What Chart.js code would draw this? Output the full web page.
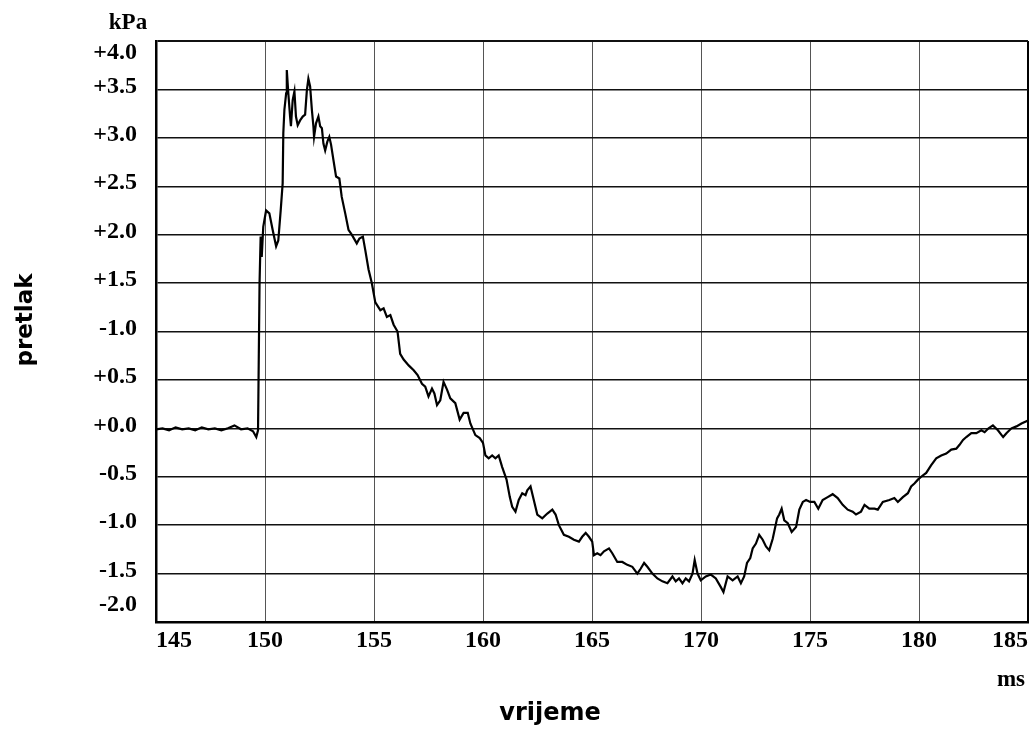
<!DOCTYPE html>
<html>
<head>
<meta charset="utf-8">
<title>pretlak / vrijeme</title>
<script src="https://cdn.jsdelivr.net/npm/chart.js@4.4.1/dist/chart.umd.min.js"></script>
<style>
  html, body { margin: 0; padding: 0; background: #fff; }
  #wrap { position: relative; width: 1032px; height: 729px; }
</style>
</head>
<body>
<div id="wrap"><canvas id="chartPressure"></canvas></div>
<script>
// vrijeme (ms) i pretlak (kPa), ocitano sa slike
const timeMs = [
  145.00, 145.30, 145.60, 145.90, 146.20, 146.50, 146.80, 147.10, 147.40, 147.70,
  148.00, 148.30, 148.60, 148.90, 149.20, 149.45, 149.60, 149.68, 149.75, 149.80,
  149.85, 149.92, 150.05, 150.20, 150.35, 150.51, 150.61, 150.72, 150.81, 150.84,
  150.89, 150.97, 151.00, 151.07, 151.15, 151.19, 151.27, 151.35, 151.42, 151.50,
  151.61, 151.73, 151.84, 151.92, 151.99, 152.07, 152.15, 152.22, 152.25, 152.34,
  152.45, 152.53, 152.61, 152.68, 152.76, 152.86, 152.95, 153.03, 153.14, 153.26,
  153.41, 153.52, 153.68, 153.83, 153.98, 154.21, 154.33, 154.49, 154.60, 154.75,
  154.90, 155.06, 155.29, 155.44, 155.59, 155.75, 155.90, 156.08, 156.20, 156.36,
  156.59, 156.82, 157.00, 157.20, 157.35, 157.50, 157.66, 157.77, 157.89, 158.04,
  158.19, 158.35, 158.50, 158.73, 158.93, 159.11, 159.30, 159.42, 159.65, 159.85,
  160.00, 160.11, 160.26, 160.42, 160.57, 160.72, 160.88, 161.08, 161.23, 161.34,
  161.49, 161.64, 161.80, 161.95, 162.03, 162.18, 162.33, 162.49, 162.72, 162.95,
  163.18, 163.33, 163.48, 163.71, 163.94, 164.17, 164.40, 164.55, 164.71, 164.86,
  165.01, 165.09, 165.24, 165.39, 165.55, 165.78, 165.93, 166.16, 166.39, 166.62,
  166.85, 167.08, 167.23, 167.39, 167.54, 167.77, 168.00, 168.23, 168.46, 168.69,
  168.84, 168.99, 169.15, 169.30, 169.45, 169.61, 169.71, 169.84, 169.99, 170.22,
  170.45, 170.68, 170.91, 171.03, 171.22, 171.45, 171.68, 171.83, 171.98, 172.11,
  172.26, 172.37, 172.52, 172.67, 172.83, 172.98, 173.13, 173.29, 173.49, 173.59,
  173.70, 173.82, 173.98, 174.16, 174.36, 174.51, 174.67, 174.82, 175.01, 175.20,
  175.38, 175.58, 175.81, 176.04, 176.27, 176.50, 176.73, 176.96, 177.11, 177.34,
  177.50, 177.72, 177.96, 178.11, 178.34, 178.64, 178.87, 179.03, 179.26, 179.49,
  179.64, 179.79, 179.95, 180.10, 180.33, 180.56, 180.79, 181.02, 181.25, 181.48,
  181.71, 181.86, 182.02, 182.17, 182.40, 182.63, 182.86, 183.01, 183.19, 183.39,
  183.62, 183.86, 184.01, 184.24, 184.47, 184.70, 185.00
];

const pressureKpa = [
  -0.01, 0.00, -0.02, 0.01, -0.01, 0.00, -0.02, 0.01, -0.01, 0.00,
  -0.02, 0.00, 0.03, -0.01, 0.00, -0.03, -0.09, -0.02, 1.50, 1.98,
  1.77, 2.08, 2.25, 2.22, 2.05, 1.88, 1.94, 2.25, 2.53, 3.05,
  3.29, 3.46, 3.70, 3.46, 3.22, 3.12, 3.39, 3.48, 3.22, 3.13,
  3.18, 3.22, 3.24, 3.49, 3.61, 3.53, 3.29, 3.12, 3.01, 3.15,
  3.22, 3.12, 3.10, 2.94, 2.87, 2.96, 3.01, 2.93, 2.77, 2.60,
  2.58, 2.39, 2.22, 2.05, 2.00, 1.91, 1.96, 1.98, 1.84, 1.64,
  1.50, 1.30, 1.22, 1.24, 1.15, 1.17, 1.07, 1.00, 0.77, 0.71,
  0.65, 0.60, 0.55, 0.46, 0.43, 0.33, 0.41, 0.36, 0.24, 0.29,
  0.48, 0.40, 0.31, 0.26, 0.09, 0.16, 0.16, 0.05, -0.07, -0.10,
  -0.15, -0.28, -0.31, -0.28, -0.31, -0.28, -0.40, -0.53, -0.71, -0.81,
  -0.86, -0.74, -0.67, -0.69, -0.64, -0.60, -0.74, -0.89, -0.93, -0.88,
  -0.84, -0.89, -1.00, -1.10, -1.12, -1.15, -1.17, -1.12, -1.08, -1.12,
  -1.17, -1.31, -1.29, -1.31, -1.27, -1.24, -1.29, -1.38, -1.38, -1.41,
  -1.43, -1.50, -1.45, -1.39, -1.43, -1.50, -1.55, -1.58, -1.60, -1.53,
  -1.58, -1.55, -1.60, -1.55, -1.58, -1.50, -1.36, -1.50, -1.57, -1.53,
  -1.51, -1.55, -1.64, -1.69, -1.53, -1.57, -1.53, -1.60, -1.53, -1.39,
  -1.34, -1.24, -1.19, -1.10, -1.15, -1.22, -1.26, -1.14, -0.93, -0.89,
  -0.83, -0.95, -0.98, -1.07, -1.02, -0.84, -0.76, -0.74, -0.76, -0.76,
  -0.83, -0.74, -0.71, -0.68, -0.72, -0.79, -0.84, -0.86, -0.89, -0.86,
  -0.79, -0.83, -0.83, -0.84, -0.76, -0.74, -0.72, -0.76, -0.71, -0.67,
  -0.60, -0.57, -0.53, -0.50, -0.46, -0.38, -0.31, -0.28, -0.26, -0.22,
  -0.21, -0.17, -0.12, -0.09, -0.05, -0.05, -0.02, -0.04, 0.00, 0.03,
  -0.02, -0.09, -0.05, 0.00, 0.02, 0.05, 0.08
];

// oznake osi y kao na originalu (ukljucujuci "-1.0" na mjestu +1.0)
const yTickValues = [4.0, 3.5, 3.0, 2.5, 2.0, 1.5, 1.0, 0.5, 0.0, -0.5, -1.0, -1.5, -2.0];
const yTickLabels = ["+4.0", "+3.5", "+3.0", "+2.5", "+2.0", "+1.5", "-1.0", "+0.5", "+0.0", "-0.5", "-1.0", "-1.5", "-2.0"];
const xTickValues = [145, 150, 155, 160, 165, 170, 175, 180, 185];

const SERIF = '"Liberation Serif", "Times New Roman", serif';
const SANS = '"DejaVu Sans", Verdana, sans-serif';

function yLabel(v) {
  const i = yTickValues.findIndex(t => Math.abs(t - v) < 1e-6);
  if (i < 0) return "";
  const txt = yTickLabels[i];
  // krajnje oznake su na originalu uvucene unutar okvira
  if (i === 0) return ["", txt];
  if (i === yTickValues.length - 1) return [txt, ""];
  return txt;
}

// kPa, ms i nazivi osi
const axisTexts = {
  id: "axisTexts",
  afterDraw(chart) {
    const { ctx } = chart;
    ctx.save();
    ctx.fillStyle = "#000";
    ctx.textAlign = "center";
    ctx.textBaseline = "middle";

    ctx.font = `bold 23px ${SERIF}`;
    ctx.fillText("kPa", 128, 23);
    ctx.fillText("ms", 1011, 680);

    ctx.font = `bold 24px ${SANS}`;
    ctx.fillText("vrijeme", 550, 714);

    ctx.translate(26, 320);
    ctx.rotate(-Math.PI / 2);
    ctx.font = `bold 23px ${SANS}`;
    ctx.fillText("pretlak", 0, 0);
    ctx.restore();
  }
};

function buildChart() {
  const el = document.getElementById("chartPressure");
  const points = timeMs.map((t, i) => ({ x: t, y: pressureKpa[i] }));

  return new Chart(el, {
    type: "line",
    data: {
      datasets: [{
        label: "pretlak",
        data: points,
        borderColor: "#000",
        borderWidth: 2.2,
        pointRadius: 0,
        tension: 0,
        fill: false
      }]
    },
    options: {
      responsive: true,
      maintainAspectRatio: false,
      animation: false,
      parsing: false,
      layout: { padding: { top: 41, right: 4, left: 0, bottom: 0 } },
      plugins: { legend: { display: false }, tooltip: { enabled: false } },
      scales: {
        x: {
          type: "linear",
          min: 145,
          max: 185,
          afterBuildTicks: (scale) => { scale.ticks = xTickValues.map(v => ({ value: v })); },
          afterFit: (scale) => { scale.height = 107; },
          grid: {
            drawTicks: false,
            color: (c) => (c.tick && c.tick.value === 185 ? "#000" : "#555"),
            lineWidth: (c) => (c.tick && c.tick.value === 185 ? 2 : 1)
          },
          border: { color: "#000", width: 2.5 },
          ticks: {
            autoSkip: false,
            maxRotation: 0,
            align: "inner",
            padding: 4,
            color: "#000",
            font: { family: SERIF, size: 24, weight: "bold" },
            callback: (v) => String(v)
          }
        },
        y: {
          min: -2,
          max: 4,
          afterBuildTicks: (scale) => { scale.ticks = yTickValues.map(v => ({ value: v })); },
          afterFit: (scale) => { scale.width = 156; scale.paddingTop = 0; scale.paddingBottom = 0; },
          grid: {
            drawTicks: false,
            color: "#111",
            lineWidth: (c) => (c.tick && c.tick.value === 4 ? 2 : 1.5)
          },
          border: { color: "#000", width: 2.5 },
          ticks: {
            autoSkip: false,
            padding: 19,
            labelOffset: -3,
            color: "#000",
            font: { family: SERIF, size: 24, weight: "bold" },
            callback: (v) => yLabel(v)
          }
        }
      }
    },
    plugins: [axisTexts]
  });
}

buildChart();
</script>
</body>
</html>
